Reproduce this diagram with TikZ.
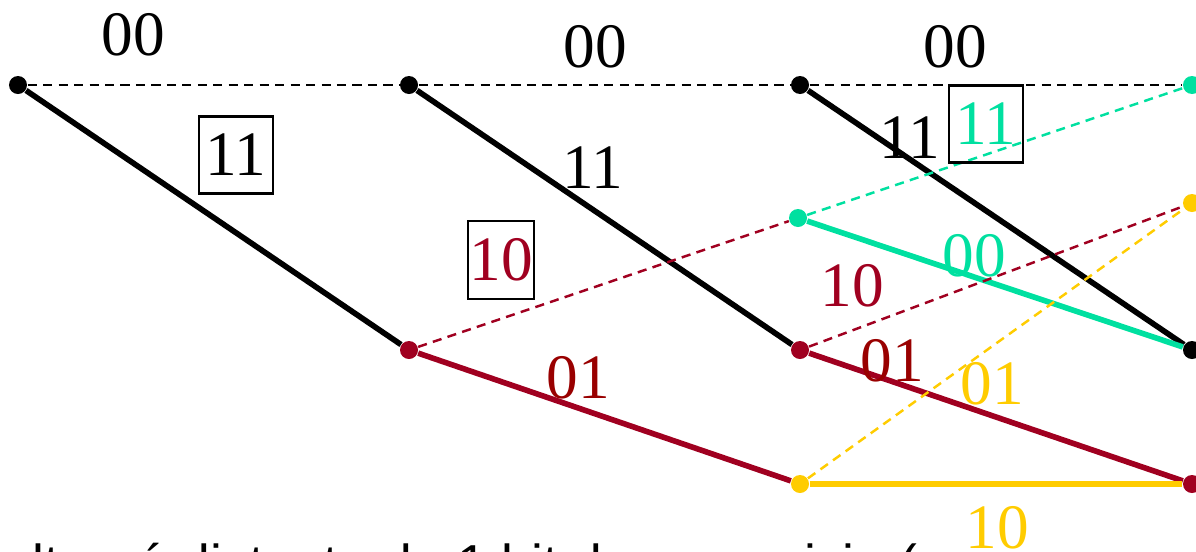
\documentclass[tikz,border=0pt]{standalone}
\usepackage{fontspec}
\setmainfont{Liberation Serif}
\setsansfont{Liberation Sans}
\usetikzlibrary{backgrounds}

\definecolor{trred}{RGB}{160,0,32}
\definecolor{trdark}{RGB}{153,0,0}
\definecolor{trteal}{RGB}{0,224,160}
\definecolor{tryellow}{RGB}{255,204,0}

\tikzset{
  state/.style={circle, fill, inner sep=0pt, minimum size=0.18cm},
  bitone/.style={line width=1.6pt},
  bitzero/.style={line width=0.7pt, dash pattern=on 2.6pt off 1.8pt},
  lbl/.style={inner sep=0pt, font=\fontsize{18}{20}\selectfont},
  boxed/.style={lbl, draw=black, line width=0.6pt, inner xsep=1.9pt, inner ysep=5pt},
}

\begin{document}
\begin{tikzpicture}
\useasboundingbox (0,0) rectangle (11.96,-5.51);
\clip (0,0) rectangle (11.96,-5.51);

% trellis states
\node[state] (a0) at (0.18,-0.85) {};
\node[state] (b0) at (4.09,-0.85) {};
\node[state, trred] (b2) at (4.09,-3.50) {};
\node[state] (c0) at (8.00,-0.85) {};
\node[state, trteal] (c1) at (7.98,-2.18) {};
\node[state, trred] (c2) at (8.00,-3.50) {};
\node[state, tryellow] (c3) at (8.00,-4.84) {};
\node[state, trteal] (d0) at (11.92,-0.85) {};
\node[state, tryellow] (d1) at (11.92,-2.03) {};
\node[state] (d2) at (11.92,-3.50) {};
\node[state, trred] (d3) at (11.92,-4.84) {};

\begin{scope}[on background layer]
% input 0 : dashed, input 1 : solid
\draw[bitzero] (a0) -- (b0);
\draw[bitone] (a0) -- (b2);
\draw[bitzero] (b0) -- (c0);
\draw[bitone] (b0) -- (c2);
\draw[bitzero, trred] (b2) -- (c1);
\draw[bitone, trred] (b2) -- (c3);
\draw[bitzero] (c0) -- (d0);
\draw[bitone] (c0) -- (d2);
\draw[bitzero, trteal] (c1) -- (d0);
\draw[bitone, trteal] (c1) -- (d2);
\draw[bitzero, trred] (c2) -- (d1);
\draw[bitone, trred] (c2) -- (d3);
\draw[bitzero, tryellow] (c3) -- (d1);
\draw[bitone, tryellow] (c3) -- (d3);
\end{scope}

% output bits
\node[lbl] (l1) at (1.33,-0.35) {00};
\node[boxed] (l2) at (2.36,-1.55) {11};
\node[lbl] (l3) at (5.95,-0.47) {00};
\node[lbl] (l4) at (5.93,-1.68) {11};
\node[boxed, text=trred, inner xsep=0.3pt] (l5) at (5.01,-2.60) {10};
\node[lbl, trdark] (l6) at (5.78,-3.78) {01};
\node[lbl] (l7) at (9.55,-0.47) {00};
\node[lbl] (l8) at (9.10,-1.38) {11};
\node[boxed, text=trteal] (l9) at (9.86,-1.24) {11};
\node[lbl, trteal] (l10) at (9.74,-2.56) {00};
\node[lbl, trred] (l11) at (8.52,-2.86) {10};
\node[lbl, trdark] (l12) at (8.92,-3.61) {01};
\node[lbl, tryellow] (l13) at (9.92,-3.84) {01};
\node[lbl, tryellow] (l14) at (9.97,-5.28) {10};

\node[anchor=base west, inner sep=0pt, font=\sffamily\fontsize{15.2}{18}\selectfont] (txt) at (0.02,-5.82)
  {alterné distante de 1 bit de son voisin (};
\end{tikzpicture}
\end{document}
